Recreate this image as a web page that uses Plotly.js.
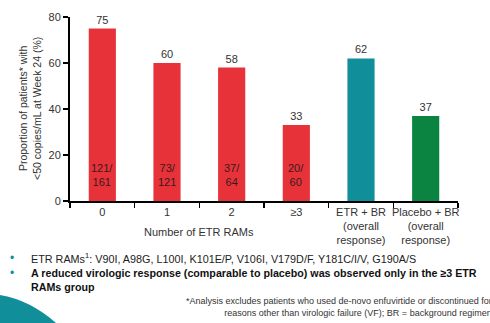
<!DOCTYPE html>
<html><head><meta charset="utf-8">
<script src="https://cdn.plot.ly/plotly-3.0.1.min.js"></script>
<style>html,body{margin:0;padding:0;background:#fff;overflow:hidden}#wrap{position:relative;width:490px;height:323px}#deco{position:absolute;left:0;top:0;pointer-events:none}</style>
</head><body>
<div id="wrap"><div id="chart" style="width:490px;height:323px"></div>
<svg id="deco" width="490" height="323"><path d="M0,295 Q30,300 56,323 L0,323 Z" fill="#108E9A"/></svg></div>
<script>
const categories = ['0', '1', '2', '≥3', 'ETR + BR<br>(overall<br>response)', 'Placebo + BR<br>(overall<br>response)'];
const values = [75, 60, 58, 33, 62, 37];
const responders = [121, 73, 37, 20, null, null];
const totals = [161, 121, 64, 60, null, null];
const barColors = ['#E8323A', '#E8323A', '#E8323A', '#E8323A', '#108E9A', '#0A8440'];
const yTicks = [0, 20, 40, 60, 80];

const font = 'Liberation Sans, Arial, sans-serif';

const trace = {
  type: 'bar', x: categories, y: values,
  marker: {color: barColors},
  text: values.map(String), textposition: 'outside',
  textfont: {family: font, size: 11, color: '#333'},
  cliponaxis: false, hoverinfo: 'none'
};

const annotations = [];
categories.forEach((c, i) => {
  if (responders[i] != null) {
    annotations.push({xref: 'x', yref: 'y', x: c, y: 11.3, text: responders[i] + '/<br>' + totals[i],
      showarrow: false, font: {family: font, size: 11, color: '#3a1a1a'}, yanchor: 'middle'});
  }
});
const px = p => (p - 70) / 388;
const py = p => (201 - p) / 184;
annotations.push({xref: 'paper', yref: 'paper', x: px(30), y: py(109), textangle: -90, xanchor: 'center', yanchor: 'middle',
  text: 'Proportion of patients* with<br><50 copies/mL at Week 24 (%)', showarrow: false,
  font: {family: font, size: 10.5, color: '#333'}});
annotations.push({xref: 'x', yref: 'paper', x: 1.5, y: py(232), text: 'Number of ETR RAMs', showarrow: false,
  font: {family: font, size: 11, color: '#333'}, yanchor: 'middle'});
annotations.push({xref: 'paper', yref: 'paper', x: px(29), y: py(258), xanchor: 'left', yanchor: 'middle', align: 'left',
  text: 'ETR RAMs<sup>1</sup>: V90I, A98G, L100I, K101E/P, V106I, V179D/F, Y181C/I/V, G190A/S', showarrow: false,
  font: {family: font, size: 10.8, color: '#222'}});
annotations.push({xref: 'paper', yref: 'paper', x: px(29), y: py(280), xanchor: 'left', yanchor: 'middle', align: 'left',
  text: '<b>A reduced virologic response (comparable to placebo) was observed only in the ≥3 ETR<br>RAMs group</b>', showarrow: false,
  font: {family: font, size: 10.7, color: '#111'}});
annotations.push({xref: 'paper', yref: 'paper', x: px(12), y: py(258), xanchor: 'center', yanchor: 'middle', text: '•', showarrow: false,
  font: {family: font, size: 12, color: '#108E9A'}});
annotations.push({xref: 'paper', yref: 'paper', x: px(12), y: py(273), xanchor: 'center', yanchor: 'middle', text: '•', showarrow: false,
  font: {family: font, size: 12, color: '#108E9A'}});
annotations.push({xref: 'paper', yref: 'paper', x: px(494), y: py(307), xanchor: 'right', yanchor: 'middle', align: 'right',
  text: '*Analysis excludes patients who used de-novo enfuvirtide or discontinued for<br>reasons other than virologic failure (VF); BR = background regimen', showarrow: false,
  font: {family: font, size: 9, color: '#333'}});

const layout = {
  width: 490, height: 323,
  margin: {l: 70, r: 32, t: 17, b: 122, pad: 0},
  paper_bgcolor: '#fff', plot_bgcolor: '#fff',
  showlegend: false, bargap: 0.58,
  font: {family: font, size: 11, color: '#333'},
  xaxis: {type: 'category', showline: true, linecolor: '#000', linewidth: 1.5, ticks: 'outside', tickson: 'boundaries',
    ticklen: 5, tickwidth: 1.5, tickcolor: '#000', showgrid: false, zeroline: false, tickangle: 0,
    tickfont: {family: font, size: 11, color: '#333'}},
  yaxis: {range: [0, 80], tickvals: yTicks, showline: true, linecolor: '#000', linewidth: 2, ticks: 'outside',
    ticklen: 5, tickwidth: 1.5, tickcolor: '#000', showgrid: false, zeroline: false,
    tickfont: {family: font, size: 11, color: '#333'}},
  annotations: annotations
};
Plotly.newPlot('chart', [trace], layout, {displayModeBar: false, staticPlot: true});
</script>
</body></html>
